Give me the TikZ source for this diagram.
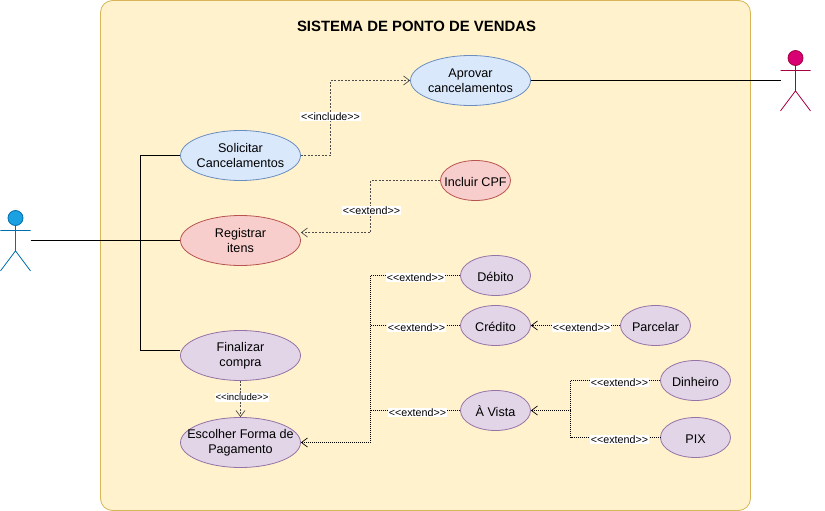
\documentclass[tikz,border=0pt]{standalone}
\usepackage{fontspec}
\setmainfont{Liberation Sans}
\usetikzlibrary{arrows.meta, positioning, shapes.geometric}
\definecolor{sysfill}{HTML}{FFF2CC}
\definecolor{sysline}{HTML}{D6B656}
\definecolor{bluefill}{HTML}{DAE8FC}
\definecolor{blueline}{HTML}{6C8EBF}
\definecolor{redfill}{HTML}{F8CECC}
\definecolor{redline}{HTML}{B85450}
\definecolor{purplefill}{HTML}{E1D5E7}
\definecolor{purpleline}{HTML}{9673A6}
\newcommand{\stereo}[1]{<\kern0pt<#1>\kern0pt>}

\begin{document}
\begin{tikzpicture}[x=1pt, y=-1pt,
                    uc/.style={draw, ellipse, inner xsep=-20pt, inner ysep=-12pt, line width=0.8pt, align=center, font=\fontsize{12.6}{15}\selectfont, execute at begin node={\rule{0pt}{11.5pt}}},
                    ucbig/.style={uc, minimum width=120pt, minimum height=50pt},
                    ucsmall/.style={uc, minimum width=70pt, minimum height=40pt},
                    ucblue/.style={fill=bluefill, draw=blueline},
                    ucred/.style={fill=redfill, draw=redline},
                    ucpurple/.style={fill=purplefill, draw=purpleline},
                    assoc/.style={draw, line width=0.8pt},
                    dep/.style={draw=black!70, line width=0.7pt, dash pattern=on 2pt off 1.5pt},
                    ext/.style={draw=black, line width=0.7pt, dash pattern=on 1pt off 1pt},
                    open/.style={-{Straight Barb[length=6pt, width=9pt]}},
                    lbl/.style={fill=white, inner sep=0.6pt, font=\fontsize{10.7}{12}\selectfont}]
    \useasboundingbox (-0.5, -0.5) rectangle (824.5, 510.5);
    \node[draw=sysline, fill=sysfill, line width=0.8pt, rounded corners=12pt, minimum width=650pt, minimum height=510pt, inner sep=0pt] (sistema) at (425, 255) {};
    \node[font=\bfseries\fontsize{14.9}{16}\selectfont] (titulo) at (416, 26) {SISTEMA DE PONTO DE VENDAS};

    % casos de uso
    \node[ucbig, ucblue] (aprovar) at (470, 80) {Aprovar\\cancelamentos};
    \node[ucbig, ucblue] (solicitar) at (240, 155) {Solicitar\\Cancelamentos};
    \node[ucbig, ucred] (registrar) at (240, 240) {Registrar\\itens};
    \node[ucbig, ucpurple] (finalizar) at (240, 355) {Finalizar\\compra};
    \node[ucbig, ucpurple] (escolher) at (240, 442) {Escolher Forma de\\Pagamento};
    \node[ucsmall, ucred] (cpf) at (475, 180) {Incluir CPF};
    \foreach \n/\x/\y/\t in {debito/495/275/Débito, credito/495/325/Crédito, parcelar/655/325/Parcelar,
                             avista/495/410/À Vista, dinheiro/695/380/Dinheiro, pix/695/437/PIX}{
            \node[ucsmall, ucpurple] (\n) at (\x, \y) {\t};
        }

    % atores
    \foreach \n/\x/\y/\f/\c in {caixa/15/210/1BA1E2/006EAF, gerente/795/50/D80073/A50040}{
            \definecolor{actorfill}{HTML}{\f}
            \definecolor{actorline}{HTML}{\c}
            \node[draw=actorline, fill=actorfill, circle, minimum size=15pt, inner sep=0pt, line width=0.8pt] (\n) at (\x, \y+7.5) {};
            \draw[actorline, line width=0.8pt] (\n.south) -- ++(0, 25) coordinate (\n hip)
            -- ++(-15, 20) (\n hip) -- ++(15, 20)
            (\x-15, \y+20) -- (\x+15, \y+20);
        }
    \coordinate (caixahand) at (30, 240);
    \coordinate (gerentehand) at (780, 80);
    \coordinate (ramal) at (140, 240);
    \coordinate (cotovelo) at (330, 116);
    \coordinate (barraA) at (370, 275);
    \coordinate (barraB) at (570, 410);

    % associacoes
    \draw[assoc] (caixahand) -- (registrar.west);
    \draw[assoc] (solicitar.west) -| (ramal) |- ([yshift=5pt]finalizar.west);
    \draw[assoc] (aprovar.east) -- (gerentehand);

    % dependencias
    \draw[dep, open] (solicitar.east) -| (cotovelo) |- (aprovar.west);
    \node[lbl] (incl1) at (330, 116) {\stereo{include}};
    \draw[dep, open] (cpf.west) -| (370, 210) |- ([yshift=8pt]registrar.east);
    \node[lbl] (ext1) at (371, 210) {\stereo{extend}};
    \draw[dep, open] (finalizar.south) -- (escolher.north);
    \node[lbl, font=\fontsize{9.6}{11}\selectfont] (incl2) at (241.5, 397) {\stereo{include}};

    \draw[ext, open] (debito.west) -- (barraA) |- (escolher.east);
    \draw[ext] (credito.west) -- (credito.west -| barraA);
    \draw[ext] (avista.west) -- (avista.west -| barraA);
    \draw[ext, open] (parcelar.west) -- (credito.east);
    \draw[ext, open] (barraB) -- (avista.east);
    \draw[ext] (dinheiro.west) -| (barraB) |- (pix.west);
    \foreach \n/\x/\y in {ext2/415/277, ext3/416/327, ext4/417/412, ext5/581/327, ext6/619/382, ext7/619/439}{
            \node[lbl] (\n) at (\x, \y) {\stereo{extend}};
        }
\end{tikzpicture}
\end{document}
